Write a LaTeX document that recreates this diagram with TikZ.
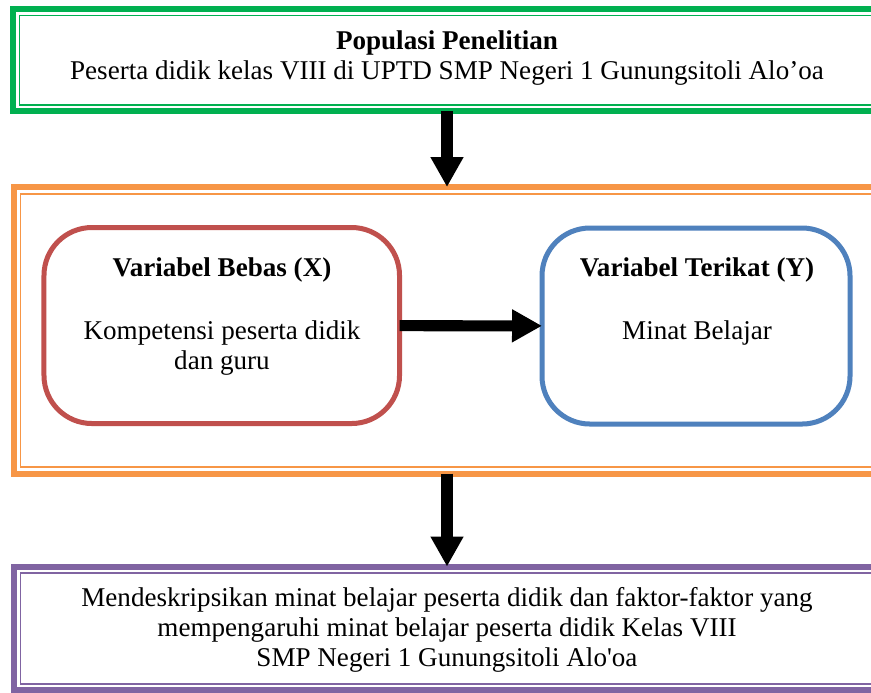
\documentclass[tikz,border=0pt]{standalone}
\usepackage{fontspec}
\setmainfont{Liberation Serif}
\usetikzlibrary{arrows.meta,positioning,calc}
\definecolor{popgreen}{HTML}{00B050}
\definecolor{varorange}{HTML}{F79646}
\definecolor{bebasred}{HTML}{C0504D}
\definecolor{terikatblue}{HTML}{4F81BD}
\definecolor{hasilpurple}{HTML}{8064A2}

\tikzset{
    frame/.style={draw=#1, line width=2.88pt, inner sep=0pt, outer sep=0pt},
    thinframe/.style={draw=#1, line width=0.95pt},
    varbox/.style={draw=#1, line width=2.4pt, rounded corners=23pt,
        minimum height=94.08pt, inner sep=0pt, outer sep=0pt},
    label/.style={align=center, font=\fontsize{13}{14.4}\selectfont},
    bigarrow/.style={line width=5.3pt, -{Triangle[width=14.9pt,length=14.4pt]}}
}

\begin{document}
\begin{tikzpicture}[x=0.48pt,y=-0.48pt]
    \path[use as bounding box, clip] (0,0) rectangle (871,692);
    \fill[white] (0,0) rectangle (871,692);

    % Frames
    \node[frame=popgreen, minimum width=416.64pt, minimum height=48.96pt] (populasi) at (447,60) {};
    \node[frame=varorange, minimum width=415.68pt, minimum height=137.52pt] (variabel) at (447,330.25) {};
    \node[frame=hasilpurple, minimum width=415.68pt, minimum height=59.28pt] (tujuan) at (447,628.25) {};

    % Inner lines of the frames
    \draw[thinframe=popgreen] ([shift={(6.5,6.5)}]populasi.north west) rectangle ([shift={(-6.5,-6.5)}]populasi.south east);
    \draw[thinframe=varorange] ([shift={(6.5,6.5)}]variabel.north west) rectangle ([shift={(-6.5,-6.5)}]variabel.south east);
    \draw[thinframe=hasilpurple] ([shift={(6.5,6.5)}]tujuan.north west) rectangle ([shift={(-6.5,-6.5)}]tujuan.south east);

    % Variable boxes
    \node[varbox=bebasred, minimum width=170.64pt] (bebas) at (221.75,325.5) {};
    \node[varbox=terikatblue, minimum width=147.84pt] (terikat) at (696,326) {};

    % Texts
    \node[label] (populasiText) at (447,58.5) {\textbf{Populasi Penelitian}\\Peserta didik kelas VIII di UPTD SMP Negeri 1 Gunungsitoli Alo’oa};
    \node[label] (bebasTitle) at (222,270) {\textbf{Variabel Bebas (X)}};
    \node[label] (bebasText) at (222,348) {Kompetensi peserta didik\\dan guru};
    \node[label] (terikatTitle) at (697,270) {\textbf{Variabel Terikat (Y)}};
    \node[label] (terikatText) at (697,333) {Minat Belajar};
    \node[label] (tujuanText) at (447,630) {Mendeskripsikan minat belajar peserta didik dan faktor-faktor yang\\mempengaruhi minat belajar peserta didik Kelas VIII\\SMP Negeri 1 Gunungsitoli Alo\textquotesingle oa};

    % Arrows
    \draw[bigarrow] (populasi) -- (variabel);
    \draw[bigarrow] (bebas) -- (terikat);
    \draw[bigarrow] (variabel) -- (tujuan);
\end{tikzpicture}
\end{document}
